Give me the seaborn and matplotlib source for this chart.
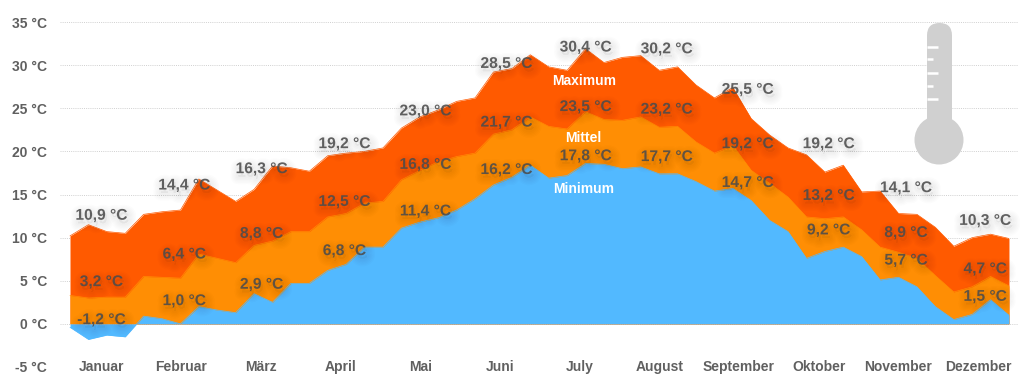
import matplotlib
matplotlib.use('Agg')
import matplotlib.pyplot as plt
import matplotlib.patches as mpatches
import matplotlib.patheffects as pe
import numpy as np
import pandas as pd
import seaborn as sns

# weekly values
t_max = [10.2, 11.5, 10.7, 10.5, 12.7, 13.0, 13.2, 16.8, 15.5, 14.2, 15.6, 18.3, 18.1,
         17.7, 19.5, 19.8, 20.0, 20.4, 22.7, 24.0, 24.8, 25.8, 26.2, 29.2, 29.6, 31.2,
         29.8, 29.4, 31.9, 30.3, 30.9, 31.1, 29.4, 29.8, 27.7, 26.2, 27.4, 23.8, 21.9,
         20.4, 19.6, 17.6, 18.4, 15.3, 15.4, 12.8, 12.7, 11.2, 9.0, 10.0, 10.4, 9.9]
t_mean = [3.3, 3.0, 3.1, 3.1, 5.5, 5.4, 5.3, 8.1, 7.6, 7.1, 9.1, 9.6, 10.7,
          10.7, 12.4, 12.8, 14.0, 14.2, 16.7, 17.8, 18.8, 19.4, 19.8, 22.0, 22.5, 24.0,
          22.9, 22.6, 24.6, 23.7, 23.6, 24.0, 22.8, 22.9, 21.1, 19.8, 20.7, 17.8, 16.3,
          14.7, 12.4, 12.2, 12.4, 10.9, 8.9, 8.3, 7.6, 5.6, 3.7, 4.3, 5.5, 4.4]
t_min = [-0.4, -1.8, -1.3, -1.5, 0.9, 0.6, 0.0, 2.0, 1.6, 1.3, 3.5, 2.5, 4.7,
         4.7, 6.2, 6.9, 8.9, 8.9, 11.1, 11.8, 12.3, 13.2, 14.5, 16.1, 17.0, 18.4,
         16.9, 17.2, 18.6, 18.5, 18.0, 18.2, 17.4, 17.4, 16.5, 15.4, 15.7, 14.3, 12.0,
         10.7, 7.6, 8.4, 8.9, 7.8, 5.1, 5.4, 4.3, 2.0, 0.5, 1.1, 2.8, 1.0]

months = ['Januar', 'Februar', 'März', 'April', 'Mai', 'Juni', 'July', 'August',
          'September', 'Oktober', 'November', 'Dezember']
month_pos = [1.7 + 4.33 * m for m in range(12)]
label_pos = [1.7, 6.2, 10.4, 14.9, 19.3, 23.7, 28.0, 32.4, 36.8, 41.2, 45.4, 49.7]

avg_max = [10.9, 14.4, 16.3, 19.2, 23.0, 28.5, 30.4, 30.2, 25.5, 19.2, 14.1, 10.3]
avg_mean = [3.2, 6.4, 8.8, 12.5, 16.8, 21.7, 23.5, 23.2, 19.2, 13.2, 8.9, 4.7]
avg_min = [-1.2, 1.0, 2.9, 6.8, 11.4, 16.2, 17.8, 17.7, 14.7, 9.2, 5.7, 1.5]

y_ticks = [-5, 0, 5, 10, 15, 20, 25, 30, 35]
colors = {'Maximum': '#FF5A00', 'Mittel': '#FF8E04', 'Minimum': '#52B9FF'}
grey = '#606060'

sns.set_theme(style='white')
plt.rcParams['font.family'] = ['Liberation Sans', 'DejaVu Sans']

weeks = np.arange(len(t_max))
df = pd.DataFrame({
    'week': np.tile(weeks, 3),
    'temp': t_max + t_mean + t_min,
    'series': ['Maximum'] * 52 + ['Mittel'] * 52 + ['Minimum'] * 52,
})

fig = plt.figure(figsize=(10.24, 3.87), dpi=100)
ax = fig.add_axes([60 / 1024, 20 / 387, 958 / 1024, 345 / 387])

for name, vals in [('Maximum', t_max), ('Mittel', t_mean), ('Minimum', t_min)]:
    ax.fill_between(weeks, 0, vals, color=colors[name], lw=0, zorder=2)
sns.lineplot(data=df, x='week', y='temp', hue='series', palette=colors,
             hue_order=['Maximum', 'Mittel', 'Minimum'], lw=0.5, legend=False, ax=ax, zorder=2)

ax.set_xlim(-0.543, 51.49)
ax.set_ylim(-5, 35)
ax.set_xlabel('')
ax.set_ylabel('')
sns.despine(ax=ax, left=True, bottom=True)

ax.set_yticks(y_ticks)
ax.set_yticklabels([f'{v} °C' for v in y_ticks], fontsize=10, fontweight='bold', color=grey)
ax.set_xticks(month_pos)
ax.set_xticklabels(months, fontsize=10, fontweight='bold', color=grey)
for lab in ax.get_xticklabels():
    lab.set_va('center')
ax.tick_params(axis='y', length=0, pad=9.4)
ax.tick_params(axis='x', length=0, pad=0)

# dotted grid, nothing at -5
for v in y_ticks[1:]:
    ax.axhline(v, color='#d0d0d0', lw=0.7, ls=(0, (1, 1.2)), zorder=1)

# soft drop shadow behind the value labels
shadow = [pe.Stroke(linewidth=w, foreground='black', alpha=0.012, offset=(1.2, -2.5))
          for w in (11, 9, 7, 5, 3)]
shadow.append(pe.Normal())

for vals in (avg_max, avg_mean, avg_min):
    for px, v in zip(label_pos, vals):
        txt = f'{v:.1f} °C'.replace('.', ',')
        ax.text(px, v + 1.7, txt, ha='center', va='center', fontsize=11.2, fontweight='bold',
                color='#4c4c4c', alpha=0.88, zorder=5, path_effects=shadow)

for name, y in [('Maximum', 28.2), ('Mittel', 21.5), ('Minimum', 15.6)]:
    ax.text(27.9, y, name, ha='center', va='center', fontsize=10, fontweight='bold',
            color='white', zorder=6)

# thermometer icon, in pixel coords
icon = fig.add_axes([0, 0, 1, 1], facecolor='none')
icon.set_xlim(0, 1024)
icon.set_ylim(387, 0)
icon.axis('off')
icon.add_patch(mpatches.FancyBboxPatch((927, 23), 25, 115, boxstyle='round,pad=0,rounding_size=12.5',
                                       fc='#d0d0d0', ec='none'))
icon.add_patch(mpatches.Circle((939, 140), 24.5, fc='#d0d0d0', ec='none'))
for y, end in [(47, 938), (59, 933), (73, 938), (86, 933), (99, 938)]:
    icon.plot([927, end], [y, y], color='white', lw=1.8, solid_capstyle='butt')

fig.savefig('out.png', dpi=100)
